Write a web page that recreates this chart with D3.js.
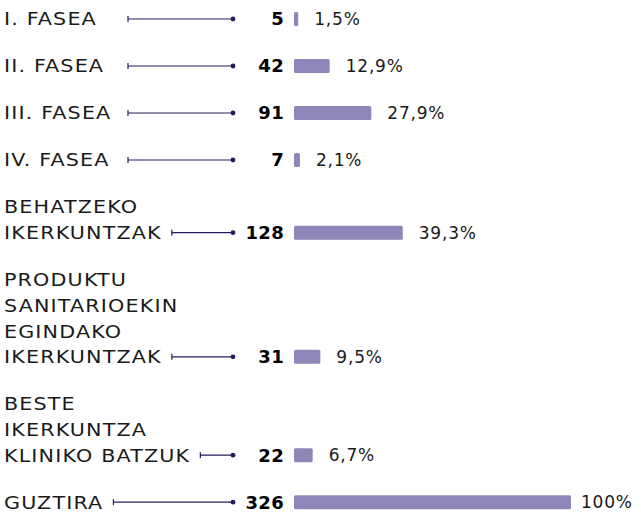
<!DOCTYPE html>
<html>
<head>
<meta charset="utf-8">
<script src="https://cdn.jsdelivr.net/npm/d3@7"></script>
<style>
  body { margin: 0; background: #fff; }
  svg { display: block; }
  .lbl { font-family: "DejaVu Sans", sans-serif; font-size: 18px; fill: #1a1a1a; letter-spacing: 1px; }
  .num { font-family: "DejaVu Sans", sans-serif; font-size: 18px; font-weight: bold; fill: #000; letter-spacing: 0.3px; }
  .pct { font-family: "DejaVu Sans", sans-serif; font-size: 17px; fill: #1a1a1a; letter-spacing: 0.8px; }
</style>
</head>
<body>
<div id="chart"></div>
<script>
const categories = [
  ["I. FASEA"],
  ["II. FASEA"],
  ["III. FASEA"],
  ["IV. FASEA"],
  ["BEHATZEKO", "IKERKUNTZAK"],
  ["PRODUKTU", "SANITARIOEKIN", "EGINDAKO", "IKERKUNTZAK"],
  ["BESTE", "IKERKUNTZA", "KLINIKO BATZUK"],
  ["GUZTIRA"]
]
const counts = [5, 42, 91, 7, 128, 31, 22, 326]
const percents = ["1,5%", "12,9%", "27,9%", "2,1%", "39,3%", "9,5%", "6,7%", "100%"]

const width = 641, height = 514
const lineH = 25.7
const rowGap = 47
const labelX = 4, stretch = 1.15  // the original face is wider than DejaVu
const barStart = 294, barMax = 277
const dotX = 233, numX = 284
const minLineStart = 128
const navy = "#231c5e"

const svg = d3.select("#chart").append("svg")
  .attr("width", width)
  .attr("height", height)

const x = d3.scaleLinear()
  .domain([0, d3.max(counts)])
  .range([0, barMax])

// y = vertical centre of the last text line of each row
let prevY = 19 - rowGap
const rows = categories.map((lines, i) => {
  const cy = prevY + rowGap + (lines.length - 1) * lineH
  prevY = cy
  return {lines, count: counts[i], pct: percents[i], cy, i}
})

const g = svg.selectAll("g.row")
  .data(rows)
  .enter().append("g")
  .attr("class", "row")
  .attr("transform", d => `translate(0,${d.cy})`)

g.each(function(d) {
  const row = d3.select(this)
  const t = row.append("text")
    .attr("class", "lbl")
    .attr("transform", `scale(${stretch},1)`)
  d.lines.forEach((s, k) => {
    t.append("tspan")
      .attr("x", labelX / stretch)
      .attr("y", (k - (d.lines.length - 1)) * lineH)
      .attr("dy", "0.36em")
      .text(s)
  })
  const last = t.selectAll("tspan").nodes().pop()
  const textEnd = labelX + last.getComputedTextLength() * stretch
  const start = d.i < 4 ? Math.max(minLineStart, textEnd + 10) : textEnd + 10

  row.append("line")
    .attr("x1", start).attr("x2", dotX)
    .attr("y1", 0).attr("y2", 0)
    .attr("stroke", navy).attr("stroke-width", 1.2)
  row.append("line")
    .attr("x1", start).attr("x2", start)
    .attr("y1", -3).attr("y2", 3)
    .attr("stroke", navy).attr("stroke-width", 1.2)
  row.append("circle")
    .attr("cx", dotX).attr("cy", 0).attr("r", 2.4)
    .attr("fill", navy)

  row.append("text")
    .attr("class", "num")
    .attr("x", numX).attr("y", 0)
    .attr("dy", "0.36em")
    .attr("text-anchor", "end")
    .text(d.count)

  const w = Math.max(x(d.count), 4)
  row.append("rect")
    .attr("x", barStart).attr("y", -7)
    .attr("width", w).attr("height", 14)
    .attr("rx", 1.5)
    .attr("fill", "#8e86b8")

  row.append("text")
    .attr("class", "pct")
    .attr("x", barStart + w + (d.i === rows.length - 1 ? 10 : 16))
    .attr("y", 0)
    .attr("dy", "0.36em")
    .text(d.pct)
})
</script>
</body>
</html>
